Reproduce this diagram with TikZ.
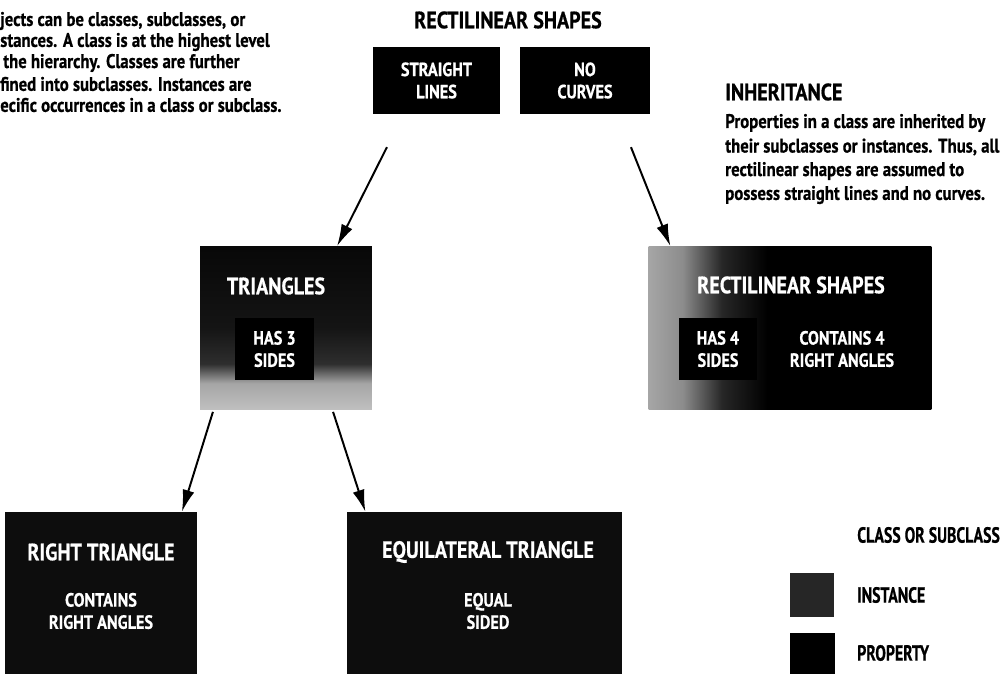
\documentclass[tikz,border=0pt]{standalone}
\usepackage{fontspec}
\setmainfont[FakeStretch=0.85, BoldFeatures={FakeBold=0.6}]{PT Sans}
\newfontfamily\legfont[FakeStretch=0.72, BoldFeatures={FakeBold=0.6}]{PT Sans}
\usetikzlibrary{arrows.meta,calc}
\pgfdeclarehorizontalshading{rectshade}{100bp}{color(0bp)=(black!35); color(25bp)=(black!35); color(31bp)=(black!45); color(38bp)=(black!85); color(46bp)=(black); color(100bp)=(black)}
\pgfdeclareverticalshading{trishade}{100bp}{color(0bp)=(black!25); color(25bp)=(black!25); color(33bp)=(black!35); color(39bp)=(black!82); color(50bp)=(black!92); color(75bp)=(black!97); color(100bp)=(black!97)}
\tikzset{
  headtxt/.style={font=\bfseries\fontsize{16.8}{18}\selectfont, inner sep=0pt},
  bodytxt/.style={font=\bfseries\fontsize{14}{15.5}\selectfont, inner sep=0pt, anchor=west},
  boxtitle/.style={font=\bfseries\fontsize{16.8}{18}\selectfont, text=white, inner sep=0pt},
  proptxt/.style={font=\bfseries\fontsize{13.6}{15.8}\selectfont, text=white, inner sep=0pt, align=center},
  propbox/.style={fill=black, inner sep=0pt},
  legtxt/.style={font=\legfont\bfseries\fontsize{15.6}{17}\selectfont, inner sep=0pt, anchor=west},
  arr/.style={line width=1.4pt, -{Latex[length=5.5mm,width=3mm]}}
}
\begin{document}
\begin{tikzpicture}[x=0.025cm,y=-0.025cm]
  \clip (0,0) rectangle (1007,674);
  % left description
  \node[bodytxt] (d1) at (0,21) {jects can be classes, subclasses, or};
  \node[bodytxt] (d2) at (0,42) {stances. A class is at the highest level};
  \node[bodytxt] (d3) at (3,63) {the hierarchy. Classes are further};
  \node[bodytxt] (d4) at (0,84) {fined into subclasses. Instances are};
  \node[bodytxt] (d5) at (0,105) {ecific occurrences in a class or subclass.};
  % top class
  \node[headtxt] (top) at (508,20) {RECTILINEAR SHAPES};
  \node[propbox, minimum width=90pt, minimum height=47.5pt] (straight) at (436.5,80.5) {};
  \node[proptxt] at (straight) {STRAIGHT\\LINES};
  \node[propbox, minimum width=92pt, minimum height=47.5pt] (nocurve) at (585,80.5) {};
  \node[proptxt] at (nocurve) {NO\\CURVES};
  % inheritance note
  \node[headtxt, anchor=west] (inh) at (725,92) {INHERITANCE};
  \node[bodytxt] (i1) at (725,123) {Properties in a class are inherited by};
  \node[bodytxt] (i2) at (725,147) {their subclasses or instances. Thus, all};
  \node[bodytxt] (i3) at (725,171) {rectilinear shapes are assumed to};
  \node[bodytxt] (i4) at (725,195) {possess straight lines and no curves.};
  % subclasses
  \node[shading=trishade, minimum width=122pt, minimum height=116pt, inner sep=0pt] (tri) at (286,328) {};
  \node[boxtitle] at (276,286) {TRIANGLES};
  \node[propbox, minimum width=56pt, minimum height=44pt] (triprop) at (274.5,349) {};
  \node[proptxt] at (triprop) {HAS 3\\SIDES};
  \node[shading=rectshade, minimum width=201pt, minimum height=116pt, inner sep=0pt] (rect) at (790,328) {};
  \node[boxtitle] at (791,285) {RECTILINEAR SHAPES};
  \node[propbox, minimum width=56pt, minimum height=44pt] (rectprop) at (718,349) {};
  \node[proptxt] at (rectprop) {HAS 4\\SIDES};
  \node[proptxt] (rectprop2) at (842,349) {CONTAINS 4\\RIGHT ANGLES};
  % instances
  \node[fill=black!95, minimum width=136pt, minimum height=125pt, inner sep=0pt] (rtri) at (101,600) {};
  \node[boxtitle] at (101,552) {RIGHT TRIANGLE};
  \node[proptxt] at (101,611) {CONTAINS\\RIGHT ANGLES};
  \node[fill=black!95, minimum width=196pt, minimum height=125pt, inner sep=0pt] (eqtri) at (484.5,600) {};
  \node[boxtitle] at (488,552) {EQUILATERAL TRIANGLE};
  \node[proptxt] at (488,611) {EQUAL\\SIDED};
  % arrows
  \draw[arr] ($(straight.south west)+(14,33)$) -- ($(tri.north east)+(-35,0)$);
  \draw[arr] ($(nocurve.south east)+(-19,33)$) -- ($(rect.north west)+(22,0)$);
  \draw[arr] ($(tri.south west)+(13,2)$) -- ($(rtri.north east)+(-15,0)$);
  \draw[arr] ($(tri.south east)+(-39,2)$) -- ($(eqtri.north west)+(19,0)$);
  % legend
  \node[legtxt] (lclass) at (857,535) {CLASS OR SUBCLASS};
  \node[fill=black!85, minimum width=31pt, minimum height=31pt, inner sep=0pt] (linst) at (812,595) {};
  \node[legtxt] (linsttxt) at (857,595) {INSTANCE};
  \node[fill=black, minimum width=32pt, minimum height=32pt, inner sep=0pt] (lprop) at (812.5,655) {};
  \node[legtxt] (lproptxt) at (857,653) {PROPERTY};
\end{tikzpicture}
\end{document}
